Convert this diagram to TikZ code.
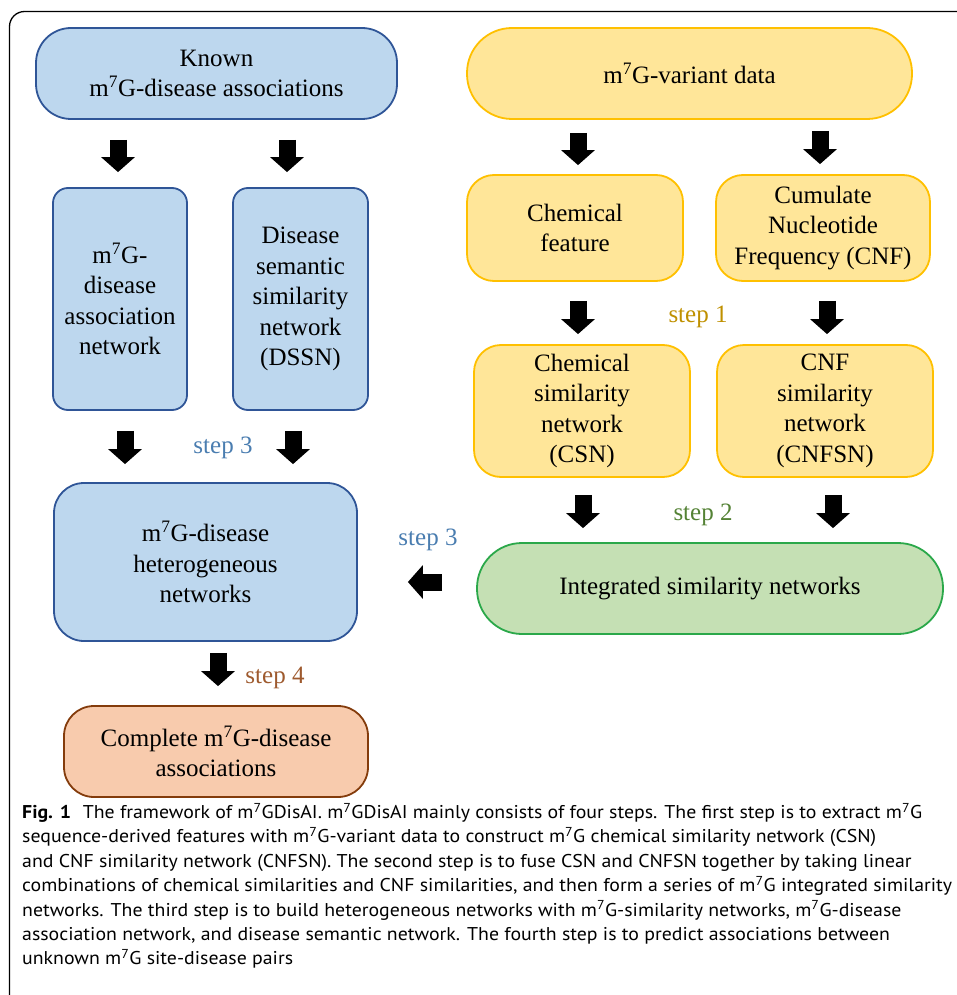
\documentclass[tikz,border=0pt]{standalone}
\usepackage{fontspec}
\setmainfont{PT Sans}[FakeStretch=1.072]
\newfontfamily\diagfont{Liberation Serif}
\usetikzlibrary{arrows.meta}

\definecolor{blueFill}{HTML}{BDD7EE}
\definecolor{blueLine}{HTML}{2F5597}
\definecolor{yellowFill}{HTML}{FFE699}
\definecolor{yellowLine}{HTML}{FFC000}
\definecolor{greenFill}{HTML}{C5E0B4}
\definecolor{greenLine}{HTML}{2BA84A}
\definecolor{orangeFill}{HTML}{F8CBAD}
\definecolor{orangeLine}{HTML}{843C0C}
\definecolor{stepOne}{HTML}{BF9000}
\definecolor{stepTwo}{HTML}{548235}
\definecolor{stepThree}{HTML}{4A7DB0}
\definecolor{stepFour}{HTML}{9E5A2E}

\newcommand{\mG}{m\textsuperscript{7}G}
\newcommand{\boxfont}{\diagfont\fontsize{25pt}{30.5pt}\selectfont}
\newcommand{\capfont}{\fontsize{18.5pt}{24.4pt}\selectfont}

\begin{document}
\begin{tikzpicture}[
        x=1pt, y=-1pt,
        box/.style={draw, line width=1.8pt, align=center, inner sep=0pt, font=\boxfont},
        bluebox/.style={box, fill=blueFill, draw=blueLine},
        yellowbox/.style={box, fill=yellowFill, draw=yellowLine},
        greenbox/.style={box, fill=greenFill, draw=greenLine},
        orangebox/.style={box, fill=orangeFill, draw=orangeLine},
        steplabel/.style={anchor=base, inner sep=0pt, font=\boxfont},
        blockarrow/.style={draw=black, line width=17pt, -{Triangle[width=33pt,length=15pt]}}
    ]
        \useasboundingbox (0,0) rectangle (956,995);

        % Frame
        \draw[line width=1.3pt, rounded corners=15pt] (9.5,1003) -- (9.5,11.5) -- (975,11.5);

        % Disease side
        \node[bluebox, minimum width=361pt, minimum height=91pt, rounded corners=35pt] (known) at (216.5,73.5) {Known\\\mG-disease associations};
        \node[bluebox, minimum width=134pt, minimum height=222pt, rounded corners=15pt] (dan) at (120,299) {\mG-\\disease\\association\\network};
        \node[bluebox, minimum width=135pt, minimum height=222pt, rounded corners=15pt] (dssn) at (300.5,299) {Disease\\semantic\\similarity\\network\\(DSSN)};
        \node[bluebox, minimum width=303pt, minimum height=158pt, rounded corners=30pt] (het) at (205.5,562) {\mG-disease\\heterogeneous\\networks};
        \node[orangebox, minimum width=304pt, minimum height=91pt, rounded corners=30pt] (complete) at (216,751.5) {Complete \mG-disease\\associations};

        % Variant side
        \node[yellowbox, minimum width=445pt, minimum height=91pt, rounded corners=45pt] (variant) at (689.5,73.5) {\mG-variant data};
        \node[yellowbox, minimum width=216pt, minimum height=106pt, rounded corners=27pt] (chem) at (575,228) {Chemical\\feature};
        \node[yellowbox, minimum width=214pt, minimum height=106pt, rounded corners=27pt] (cnf) at (823,228) {Cumulate\\Nucleotide\\Frequency (CNF)};
        \node[yellowbox, minimum width=216pt, minimum height=132pt, rounded corners=27pt] (csn) at (582,411) {Chemical\\similarity\\network\\(CSN)};
        \node[yellowbox, minimum width=216pt, minimum height=132pt, rounded corners=27pt] (cnfsn) at (825,411) {CNF\\similarity\\network\\(CNFSN)};
        \node[greenbox, minimum width=466pt, minimum height=91pt, rounded corners=45pt] (green) at (710,588.5) {Integrated similarity networks};

        % Step labels
        \node[steplabel, text=stepOne] (stepa) at (698,322) {step 1};
        \node[steplabel, text=stepTwo] (stepb) at (703,520) {step 2};
        \node[steplabel, text=stepThree] (stepc) at (223,453) {step 3};
        \node[steplabel, text=stepThree] (stepd) at (428,545) {step 3};
        \node[steplabel, text=stepFour] (stepe) at (275,683) {step 4};

        % Arrows disease side
        \draw[blockarrow, shorten <=20pt, shorten >=15pt] ([xshift=-98.5pt]known.south) -- ([xshift=-2pt]dan.north);
        \draw[blockarrow, shorten <=20pt, shorten >=15pt] ([xshift=70.5pt]known.south) -- ([xshift=-13.5pt]dssn.north);
        \draw[blockarrow, shorten <=20pt, shorten >=18pt] ([xshift=5pt]dan.south) -- ([xshift=-80.5pt]het.north);
        \draw[blockarrow, shorten <=20pt, shorten >=18pt] ([xshift=-7.5pt]dssn.south) -- ([xshift=87.5pt]het.north);
        \draw[blockarrow, shorten <=11pt, shorten >=19pt] ([xshift=12.5pt]het.south) -- ([xshift=2pt]complete.north);

        % Arrows variant side
        \draw[blockarrow, shorten <=13pt, shorten >=9pt] ([xshift=-111.5pt]variant.south) -- ([xshift=3pt]chem.north);
        \draw[blockarrow, shorten <=11pt, shorten >=10pt] ([xshift=130.5pt]variant.south) -- ([xshift=-3pt]cnf.north);
        \draw[blockarrow, shorten <=19pt, shorten >=10pt] ([xshift=3pt]chem.south) -- ([xshift=-4pt]csn.north);
        \draw[blockarrow, shorten <=19pt, shorten >=10pt] ([xshift=4pt]cnf.south) -- ([xshift=2pt]cnfsn.north);
        \draw[blockarrow, shorten <=17pt, shorten >=14pt] ([xshift=1pt]csn.south) -- ([xshift=-127pt]green.north);
        \draw[blockarrow, shorten <=17pt, shorten >=14pt] ([xshift=8pt]cnfsn.south) -- ([xshift=123pt]green.north);
        \draw[blockarrow, shorten <=34pt, shorten >=50pt] ([yshift=6.5pt]green.west) -- ([yshift=-20pt]het.east);

        % Caption
        \node[anchor=north west, inner sep=0pt, align=left, font=\capfont] (caption) at (22,803) {%
            \textbf{Fig. 1}\hspace{0.35em} The framework of \mG DisAI. \mG DisAI mainly consists of four steps. The first step is to extract \mG\\
            sequence-derived features with \mG-variant data to construct \mG\ chemical similarity network (CSN)\\
            and CNF similarity network (CNFSN). The second step is to fuse CSN and CNFSN together by taking linear\\
            combinations of chemical similarities and CNF similarities, and then form a series of \mG\ integrated similarity\\
            networks. The third step is to build heterogeneous networks with \mG-similarity networks, \mG-disease\\
            association network, and disease semantic network. The fourth step is to predict associations between\\
            unknown \mG\ site-disease pairs};
    \end{tikzpicture}
\end{document}
